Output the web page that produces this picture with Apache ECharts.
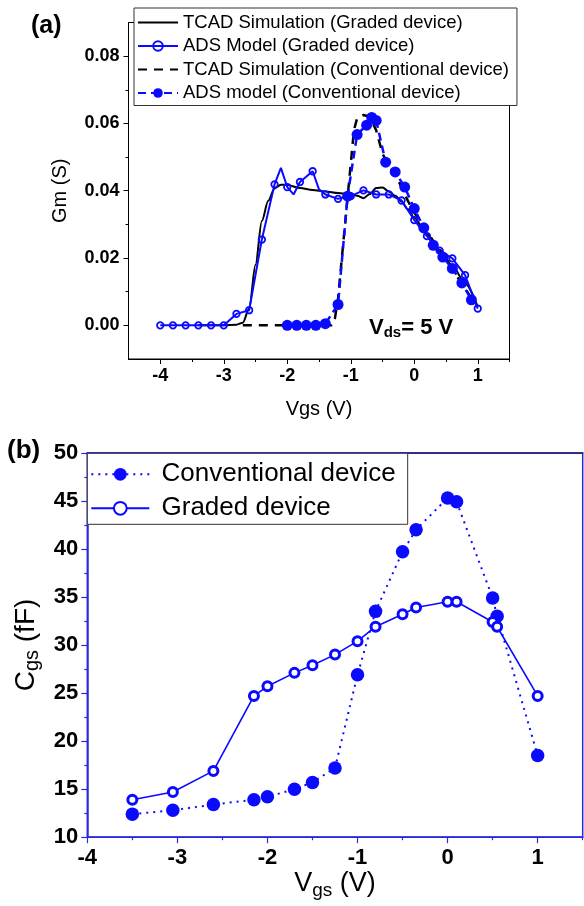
<!DOCTYPE html>
<html>
<head>
<meta charset="utf-8">
<script src="https://cdn.jsdelivr.net/npm/echarts@6/dist/echarts.min.js"></script>
<style>
html, body { margin: 0; padding: 0; background: #fff; }
#chart { width: 584px; height: 906px; }
</style>
</head>
<body>
<div id="chart"></div>
<script>
// ---- (a) Gm vs Vgs, Vds = 5 V ----
const vgsGradedTcad = [-3.4, -3.0, -2.8, -2.7, -2.6, -2.5, -2.4, -2.3, -2.2, -2.1, -2.0, -1.8, -1.6, -1.4, -1.2, -1.0, -0.9, -0.8, -0.7, -0.6, -0.5, -0.4, -0.3, -0.2, -0.1, 0.0, 0.2, 0.4, 0.6, 0.8, 1.0]
const gmGradedTcad = [0, 0, 0.0002, 0.0008, 0.005, 0.018, 0.031, 0.037, 0.0407, 0.0418, 0.0417, 0.0408, 0.0402, 0.0398, 0.0393, 0.0389, 0.0385, 0.0378, 0.039, 0.0408, 0.041, 0.0398, 0.0385, 0.0368, 0.0345, 0.032, 0.027, 0.0225, 0.0178, 0.0125, 0.0055]

const vgsGradedAds = [-4.0, -3.8, -3.6, -3.4, -3.2, -3.0, -2.8, -2.6, -2.4, -2.2, -2.1, -2.0, -1.9, -1.8, -1.6, -1.5, -1.4, -1.2, -1.0, -0.8, -0.6, -0.4, -0.2, 0.0, 0.2, 0.4, 0.6, 0.8, 1.0]
const gmGradedAds = [0, 0, 0, 0, 0, 0, 0.0034, 0.0045, 0.0255, 0.0419, 0.0468, 0.0411, 0.0389, 0.0426, 0.0458, 0.0404, 0.0389, 0.0376, 0.0384, 0.0401, 0.0389, 0.0389, 0.0371, 0.0313, 0.0265, 0.0222, 0.0199, 0.0149, 0.005]
// vertices of the model curve drawn without a marker
const gradedAdsUnmarked = [-2.1, -1.9, -1.5]

const vgsConvTcad = [-2.7, -1.3, -1.25, -1.2, -1.1, -1.0, -0.95, -0.9, -0.8, -0.7, -0.6, -0.5, -0.4, -0.3, -0.2, -0.1, 0.0, 0.2, 0.4, 0.6, 0.8, 0.95]
const gmConvTcad = [0, 0, 0.002, 0.008, 0.028, 0.048, 0.058, 0.0615, 0.0625, 0.062, 0.058, 0.051, 0.0475, 0.045, 0.041, 0.037, 0.0335, 0.028, 0.022, 0.0165, 0.011, 0.0065]

const vgsConvAds = [-2.0, -1.85, -1.7, -1.55, -1.4, -1.2, -1.05, -0.9, -0.75, -0.67, -0.6, -0.45, -0.3, -0.15, 0.0, 0.15, 0.3, 0.45, 0.6, 0.75, 0.9]
const gmConvAds = [0, 0, 0, 0, 0.0005, 0.0062, 0.0384, 0.0567, 0.0595, 0.0618, 0.0609, 0.0485, 0.0456, 0.0411, 0.0347, 0.029, 0.0238, 0.0203, 0.0169, 0.0126, 0.0076]

const aXLabels = [-4, -3, -2, -1, 0, 1]
const aXMinor = [-3.5, -2.5, -1.5, -0.5, 0.5, 1.5]
const aYLabels = [0, 0.02, 0.04, 0.06, 0.08]
const aYMinor = [0.01, 0.03, 0.05, 0.07]

// ---- (b) Cgs vs Vgs ----
const vgsCgs = [-3.5, -3.05, -2.6, -2.15, -2.0, -1.7, -1.5, -1.25, -1.0, -0.8, -0.5, -0.35, 0.0, 0.1, 0.5, 0.55, 1.0]
const cgsConventional = [12.4, 12.8, 13.4, 13.9, 14.2, 15.0, 15.7, 17.2, 26.9, 33.5, 39.7, 42.0, 45.3, 44.9, 34.9, 33.0, 18.5]
const cgsGraded = [13.9, 14.7, 16.9, 24.7, 25.7, 27.1, 27.9, 29.0, 30.4, 31.9, 33.2, 33.9, 34.5, 34.5, 32.4, 31.9, 24.7]

const bXLabels = [-4, -3, -2, -1, 0, 1]
const bXMinor = [-3.5, -2.5, -1.5, -0.5, 0.5, 1.5]

const FONT = "'Liberation Sans', Arial, Helvetica, sans-serif"
const BLUE = '#0a0aff'
const AXIS_BLUE = '#2b2bdc'
const CLEAR = 'rgba(255,255,255,0)'

const zip = (xs, ys) => xs.map((x, i) => [x, ys[i]])

const chart = echarts.init(document.getElementById('chart'), null, { renderer: 'canvas' })

const option = {
  animation: false,
  backgroundColor: '#fff',
  textStyle: { fontFamily: FONT },
  grid: [
    { left: 128.5, top: 22.5, width: 381, height: 336.5, show: true, borderColor: '#000', borderWidth: 1 },
    { left: 87.3, top: 452.8, width: 495.4, height: 384.4, show: true, borderColor: AXIS_BLUE, borderWidth: 1.5 }
  ],
  xAxis: [
    {
      gridIndex: 0, type: 'value', min: -4.5, max: 1.5, position: 'bottom',
      axisLine: { onZero: false, lineStyle: { color: '#000', width: 1 } },
      axisTick: { customValues: aXLabels, length: 5, lineStyle: { color: '#000' } },
      axisLabel: { customValues: aXLabels, fontSize: 18, fontWeight: 'bold', color: '#000', margin: 8, fontFamily: FONT },
      splitLine: { show: false },
      name: 'Vgs (V)', nameLocation: 'middle', nameGap: 40,
      nameTextStyle: { fontSize: 20, color: '#000', fontFamily: FONT }
    },
    {
      gridIndex: 0, type: 'value', min: -4.5, max: 1.5, position: 'bottom',
      axisLine: { show: false, onZero: false },
      axisTick: { customValues: aXMinor, length: 3, lineStyle: { color: '#000' } },
      axisLabel: { show: false },
      splitLine: { show: false }
    },
    {
      gridIndex: 1, type: 'value', min: -4, max: 1.5, position: 'bottom',
      axisLine: { onZero: false, lineStyle: { color: AXIS_BLUE, width: 1.5 } },
      axisTick: { customValues: bXLabels, length: 6, lineStyle: { color: AXIS_BLUE, width: 1.2 } },
      axisLabel: { customValues: bXLabels, fontSize: 22, fontWeight: 'bold', color: '#000', margin: 10, fontFamily: FONT },
      splitLine: { show: false },
      name: '{m|V}{s|gs}{m| (V)}', nameLocation: 'middle', nameGap: 30,
      nameTextStyle: {
        color: '#000',
        rich: {
          m: { fontSize: 27, fontFamily: FONT, color: '#000' },
          s: { fontSize: 19, fontFamily: FONT, color: '#000', padding: [14, 0, 0, 0] }
        }
      }
    },
    {
      gridIndex: 1, type: 'value', min: -4, max: 1.5, position: 'bottom',
      axisLine: { show: false, onZero: false },
      axisTick: { customValues: bXMinor, length: 3, lineStyle: { color: AXIS_BLUE, width: 1.2 } },
      axisLabel: { show: false },
      splitLine: { show: false }
    },
    {
      gridIndex: 1, type: 'value', min: -4, max: 1.5, position: 'top',
      axisLine: { onZero: false, lineStyle: { color: '#333', width: 1.2 } },
      axisTick: { show: false },
      axisLabel: { show: false },
      splitLine: { show: false }
    }
  ],
  yAxis: [
    {
      gridIndex: 0, type: 'value', min: -0.01, max: 0.09, position: 'left',
      axisLine: { show: true, onZero: false, lineStyle: { color: '#000', width: 1 } },
      axisTick: { show: true, customValues: aYLabels, length: 5, lineStyle: { color: '#000' } },
      axisLabel: {
        customValues: aYLabels, fontSize: 18, fontWeight: 'bold', color: '#000', margin: 9, fontFamily: FONT,
        formatter: v => v.toFixed(2)
      },
      splitLine: { show: false },
      name: 'Gm (S)', nameLocation: 'middle', nameGap: 58, nameRotate: 90,
      nameTextStyle: { fontSize: 20, color: '#000', fontFamily: FONT }
    },
    {
      gridIndex: 0, type: 'value', min: -0.01, max: 0.09, position: 'left',
      axisLine: { show: false, onZero: false },
      axisTick: { show: true, customValues: aYMinor, length: 3, lineStyle: { color: '#000' } },
      axisLabel: { show: false },
      splitLine: { show: false }
    },
    {
      gridIndex: 1, type: 'value', min: 10, max: 50, interval: 5, position: 'left',
      axisLine: { show: true, onZero: false, lineStyle: { color: AXIS_BLUE, width: 1.5 } },
      axisTick: { show: true, length: 6, lineStyle: { color: AXIS_BLUE, width: 1.2 } },
      minorTick: { show: true, splitNumber: 2, length: 3, lineStyle: { color: AXIS_BLUE, width: 1.2 } },
      axisLabel: { fontSize: 22, fontWeight: 'bold', color: '#000', margin: 9, fontFamily: FONT },
      splitLine: { show: false },
      name: '{m|C}{s|gs}{m| (fF)}', nameLocation: 'middle', nameGap: 42, nameRotate: 90,
      nameTextStyle: {
        color: '#000',
        rich: {
          m: { fontSize: 28, fontFamily: FONT, color: '#000' },
          s: { fontSize: 20, fontFamily: FONT, color: '#000', padding: [14, 0, 0, 0] }
        }
      }
    }
  ],
  legend: [
    {
      data: [
        'TCAD Simulation (Graded device)',
        'ADS Model (Graded device)',
        'TCAD Simulation (Conventional device)',
        'ADS model (Conventional device)'
      ],
      orient: 'vertical', left: 134, top: 8,
      itemWidth: 40, itemHeight: 12, itemGap: 4.5,
      padding: [5, 8, 3, 3],
      backgroundColor: '#fff', borderColor: '#333', borderWidth: 1,
      textStyle: { fontSize: 18.5, color: '#000', fontFamily: FONT }
    },
    {
      data: ['Conventional device', 'Graded device'],
      orient: 'vertical', left: 87.3, top: 453.3,
      itemWidth: 58, itemHeight: 16, itemGap: 8,
      padding: [8, 12, 3, 3],
      formatter: ' {name}',
      backgroundColor: '#fff', borderColor: '#333', borderWidth: 1,
      textStyle: { fontSize: 26, color: '#000', fontFamily: FONT }
    }
  ],
  graphic: [
    { type: 'text', left: 31, top: 14, style: { text: '(a)', font: 'bold 25px ' + FONT, fill: '#000' } },
    { type: 'text', left: 7, top: 438, style: { text: '(b)', font: 'bold 26px ' + FONT, fill: '#000' } },
    {
      type: 'text', left: 369, top: 317,
      style: {
        text: '{v|V}{s|ds}{v|= 5 V}',
        rich: {
          v: { font: 'bold 22px ' + FONT, fill: '#000' },
          s: { font: 'bold 15px ' + FONT, fill: '#000', padding: [10, 0, 0, 0] }
        }
      }
    }
  ],
  series: [
    {
      name: 'TCAD Simulation (Graded device)', type: 'line', xAxisIndex: 0, yAxisIndex: 0,
      data: zip(vgsGradedTcad, gmGradedTcad),
      showSymbol: false, symbol: 'circle', smooth: 0.3, smoothMonotone: 'x',
      lineStyle: { color: '#000', width: 2 }, itemStyle: { color: CLEAR }
    },
    {
      name: 'ADS Model (Graded device)', type: 'line', xAxisIndex: 0, yAxisIndex: 0,
      data: zip(vgsGradedAds, gmGradedAds).map(p => gradedAdsUnmarked.includes(p[0]) ? { value: p, symbol: 'none' } : p),
      symbol: 'circle', symbolSize: 6.5,
      lineStyle: { color: BLUE, width: 2 },
      itemStyle: { color: CLEAR, borderColor: BLUE, borderWidth: 1.8 }
    },
    {
      name: 'TCAD Simulation (Conventional device)', type: 'line', xAxisIndex: 0, yAxisIndex: 0,
      data: zip(vgsConvTcad, gmConvTcad),
      showSymbol: false, symbol: 'circle',
      lineStyle: { color: '#000', width: 2.5, type: [9, 7] }, itemStyle: { color: CLEAR }
    },
    {
      name: 'ADS model (Conventional device)', type: 'line', xAxisIndex: 0, yAxisIndex: 0,
      data: zip(vgsConvAds, gmConvAds),
      symbol: 'circle', symbolSize: 11,
      lineStyle: { color: BLUE, width: 2.5, type: [8, 5] },
      itemStyle: { color: BLUE }
    },
    {
      name: 'Conventional device', type: 'line', xAxisIndex: 2, yAxisIndex: 2,
      data: zip(vgsCgs, cgsConventional),
      symbol: 'circle', symbolSize: 13.5,
      lineStyle: { color: BLUE, width: 2, type: [2, 5] },
      itemStyle: { color: BLUE }
    },
    {
      name: 'Graded device', type: 'line', xAxisIndex: 2, yAxisIndex: 2,
      data: zip(vgsCgs, cgsGraded),
      symbol: 'circle', symbolSize: 9,
      lineStyle: { color: BLUE, width: 1.6 },
      itemStyle: { color: '#fff', borderColor: BLUE, borderWidth: 3 }
    }
  ]
}

chart.setOption(option)
</script>
</body>
</html>
